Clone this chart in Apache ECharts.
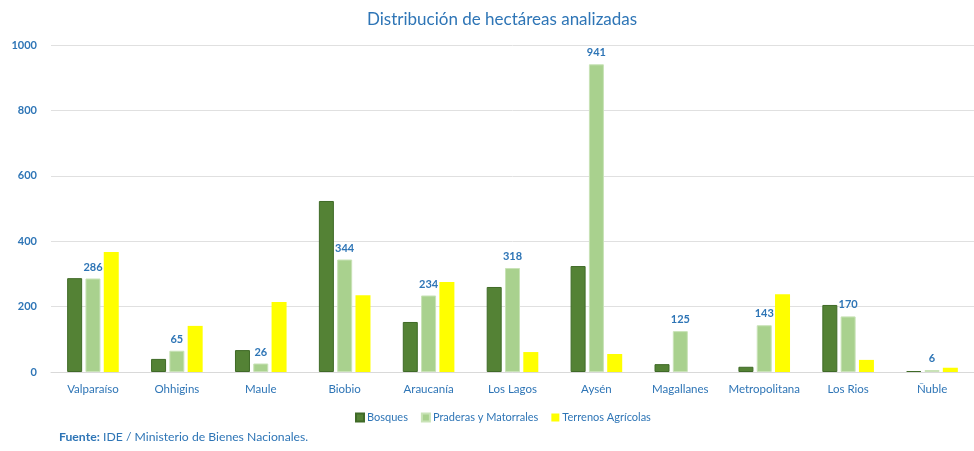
<!DOCTYPE html>
<html><head><meta charset="utf-8">
<script src="https://cdn.jsdelivr.net/npm/echarts@6/dist/echarts.min.js"></script>
<style>html,body{margin:0;padding:0;background:#fff}#c{width:974px;height:451px}</style>
</head><body><div id="c"></div>
<script>
const categories = ["Valparaíso","Ohhigins","Maule","Biobio","Araucanía","Los Lagos","Aysén","Magallanes","Metropolitana","Los Rios","Ñuble"];
const bosques = [287, 40, 67, 523, 153, 260, 324, 24, 16, 205, 3];
const praderas = [286, 65, 26, 344, 234, 318, 941, 125, 143, 170, 6];
const terrenos = [367, 141, 214, 235, 275, 61, 55, 0, 238, 37, 13];
const yTicks = [0, 200, 400, 600, 800, 1000];
const blue = '#2E75B6';
const font = 'Lato';
const chart = echarts.init(document.getElementById('c'));
chart.setOption({
  animation: false,
  textStyle: {fontFamily: font},
  title: {text: 'Distribución de hectáreas analizadas', left: 362, top: 6,
    textStyle: {color: blue, fontSize: 17, fontWeight: 'normal', fontFamily: font}},
  graphic: [{type: 'text', left: 59, top: 431, style: {rich: {b: {fontWeight: 'bold', fill: blue, fontSize: 12.2, fontFamily: font}, n: {fill: blue, fontSize: 12.2, fontFamily: font}}, text: '{b|Fuente:} {n|IDE / Ministerio de Bienes Nacionales.}'}}],
  legend: {top: 407, left: 350, itemWidth: 8, itemHeight: 8, itemGap: 13,
    textStyle: {color: blue, fontSize: 11, fontFamily: font, padding: [0, 0, 0, -2]}, icon: 'rect'},
  grid: {left: 51, width: 928, top: 45, bottom: 79},
  xAxis: {type: 'category', data: categories,
    axisLine: {lineStyle: {color: '#d9d9d9'}}, axisTick: {show: false},
    axisLabel: {color: blue, fontSize: 11.5, margin: 11, fontFamily: font, interval: 0}},
  yAxis: {type: 'value', min: 0, max: 1000, interval: 200,
    splitLine: {lineStyle: {color: '#e0e0e0'}},
    axisLabel: {color: blue, fontSize: 11, fontWeight: 'bold', margin: 14, fontFamily: font,
      formatter: v => yTicks.includes(v) ? String(v) : ''}},
  series: [
    {name: 'Bosques', type: 'bar', data: bosques, barWidth: 15, barGap: '22%',
      itemStyle: {color: '#548235', borderColor: '#3f6a27', borderWidth: 1}},
    {name: 'Praderas y Matorrales', type: 'bar', data: praderas, barWidth: 15, barGap: '22%',
      itemStyle: {color: '#A9D18E', borderColor: '#c9e3b7', borderWidth: 1},
      label: {show: true, position: 'top', color: blue, fontSize: 11, fontWeight: 'bold', fontFamily: font, distance: 6}},
    {name: 'Terrenos Agrícolas', type: 'bar', data: terrenos, barWidth: 15, barGap: '22%',
      itemStyle: {color: '#FFFF00'}}
  ]
});
</script></body></html>
